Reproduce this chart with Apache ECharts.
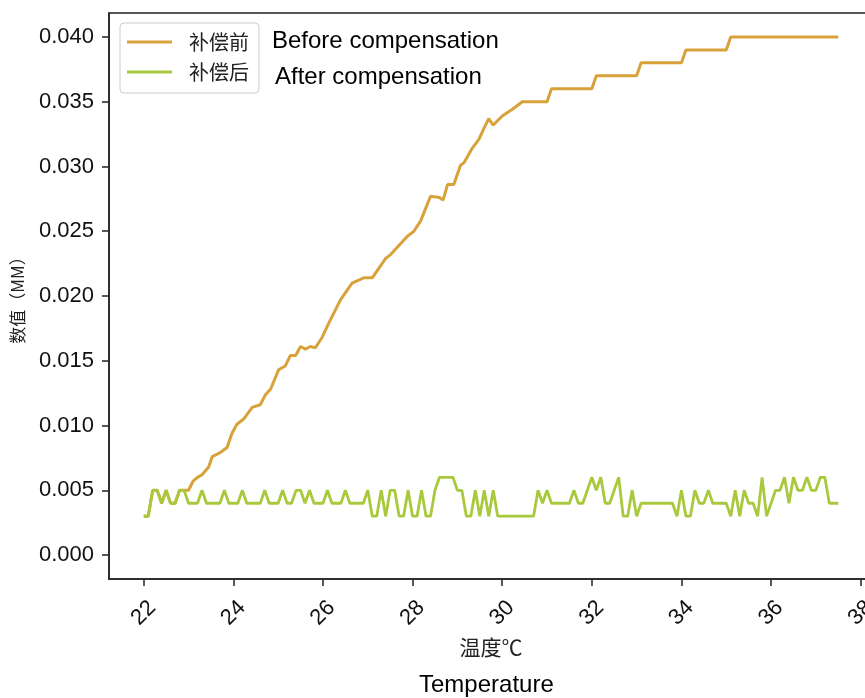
<!DOCTYPE html>
<html>
<head>
<meta charset="utf-8">
<script src="https://cdn.jsdelivr.net/npm/echarts@6/dist/echarts.min.js"></script>
<style>html,body{margin:0;padding:0;background:#fff;}#c{width:865px;height:698px;}</style>
</head>
<body>
<div id="c"></div>
<script>
// Temperature (x) ticks
var xTicks = [22, 24, 26, 28, 30, 32, 34, 36, 38];
var yTicks = [0.000, 0.005, 0.010, 0.015, 0.020, 0.025, 0.030, 0.035, 0.040];

// 补偿前 (before compensation): temperature / value pairs
var beforeTemp = [22.0, 22.1, 22.2, 22.3, 22.4, 22.5, 22.6, 22.7, 22.8, 22.9, 23.0, 23.1, 23.2, 23.3, 23.45, 23.53, 23.7, 23.86, 23.97, 24.08, 24.23, 24.42, 24.6, 24.72, 24.83, 25.01, 25.16, 25.27, 25.39, 25.5, 25.61, 25.72, 25.83, 25.98, 26.13, 26.39, 26.65, 26.91, 27.1, 27.4, 27.51, 27.88, 28.03, 28.18, 28.4, 28.6, 28.68, 28.78, 28.92, 29.07, 29.15, 29.33, 29.48, 29.6, 29.7, 29.8, 30.0, 30.22, 30.45, 31.0, 31.1, 32.0, 32.1, 33.0, 33.1, 34.0, 34.1, 35.0, 35.1, 37.5];
var beforeVal = [0.003, 0.003, 0.005, 0.005, 0.004, 0.005, 0.004, 0.004, 0.005, 0.005, 0.005, 0.0057, 0.006, 0.0062, 0.0068, 0.0076, 0.0079, 0.0083, 0.0094, 0.0101, 0.0105, 0.0114, 0.0116, 0.0124, 0.0128, 0.0143, 0.0146, 0.0154, 0.0154, 0.0161, 0.0159, 0.0161, 0.0160, 0.0168, 0.0179, 0.0197, 0.0210, 0.0214, 0.0214, 0.0229, 0.0232, 0.0246, 0.0250, 0.0258, 0.0277, 0.0276, 0.0274, 0.0286, 0.0286, 0.0301, 0.0303, 0.0314, 0.0321, 0.0330, 0.0337, 0.0332, 0.0339, 0.0344, 0.0350, 0.0350, 0.0360, 0.0360, 0.0370, 0.0370, 0.0380, 0.0380, 0.0390, 0.0390, 0.0400, 0.0400];

// 补偿后 (after compensation)
var afterTemp = [22.0,22.1,22.2,22.3,22.4,22.5,22.6,22.7,22.8,22.9,
23.0,23.1,23.2,23.3,23.4,23.5,23.6,23.7,23.8,23.9,
24.0,24.1,24.2,24.3,24.4,24.5,24.6,24.7,24.8,24.9,
25.0,25.1,25.2,25.3,25.4,25.5,25.6,25.7,25.8,25.9,
26.0,26.1,26.2,26.3,26.4,26.5,26.6,26.7,26.8,26.9,
27.0,27.1,27.2,27.3,27.4,27.5,27.6,27.7,27.8,27.9,
28.0,28.1,28.2,28.3,28.4,28.5,28.6,28.7,28.8,28.9,
29.0,29.1,29.2,29.3,29.4,29.5,29.6,29.7,29.8,29.9,
30.0,30.1,30.2,30.3,30.4,30.5,30.6,30.7,30.8,30.9,
31.0,31.1,31.2,31.3,31.4,31.5,31.6,31.7,31.8,31.9,
32.0,32.1,32.2,32.3,32.4,32.5,32.6,32.7,32.8,32.9,
33.0,33.1,33.2,33.3,33.4,33.5,33.6,33.7,33.8,33.9,
34.0,34.1,34.2,34.3,34.4,34.5,34.6,34.7,34.8,34.9,
35.0,35.1,35.2,35.3,35.4,35.5,35.6,35.7,35.8,35.9,
36.0,36.1,36.2,36.3,36.4,36.5,36.6,36.7,36.8,36.9,
37.0,37.1,37.2,37.3,37.4,37.5];
var afterVal = [0.003,0.003,0.005,0.005,0.004,0.005,0.004,0.004,0.005,0.005,
0.004,0.004,0.004,0.005,0.004,0.004,0.004,0.004,0.005,0.004,
0.004,0.004,0.005,0.004,0.004,0.004,0.004,0.005,0.004,0.004,
0.004,0.005,0.004,0.004,0.005,0.005,0.004,0.005,0.004,0.004,
0.004,0.005,0.004,0.004,0.004,0.005,0.004,0.004,0.004,0.004,
0.005,0.003,0.003,0.005,0.003,0.005,0.005,0.003,0.003,0.005,
0.003,0.003,0.005,0.003,0.003,0.005,0.006,0.006,0.006,0.006,
0.005,0.005,0.003,0.003,0.005,0.003,0.005,0.003,0.005,0.003,
0.003,0.003,0.003,0.003,0.003,0.003,0.003,0.003,0.005,0.004,
0.005,0.004,0.004,0.004,0.004,0.004,0.005,0.004,0.004,0.005,
0.006,0.005,0.006,0.004,0.004,0.005,0.006,0.003,0.003,0.005,
0.003,0.004,0.004,0.004,0.004,0.004,0.004,0.004,0.004,0.003,
0.005,0.003,0.003,0.005,0.004,0.004,0.005,0.004,0.004,0.004,
0.004,0.003,0.005,0.003,0.005,0.004,0.004,0.003,0.006,0.003,
0.004,0.005,0.005,0.006,0.004,0.006,0.005,0.005,0.006,0.005,
0.005,0.006,0.006,0.004,0.004,0.004];

function pairs(xs, ys) { return xs.map(function (x, i) { return [x, ys[i]]; }); }

var FONT = '"Liberation Sans", Arial, "Noto Sans CJK SC", sans-serif';
var CJK = '"Noto Sans CJK SC", "Liberation Sans", sans-serif';
var chart = echarts.init(document.getElementById('c'), null, {renderer: 'canvas'});
chart.setOption({
  backgroundColor: '#ffffff',
  animation: false,
  grid: {left: 109, top: 13, width: 764, height: 566, containLabel: false, outerBoundsMode: 'none',
    show: true, borderColor: '#222', borderWidth: 1.5, backgroundColor: 'transparent'},
  legend: {
    orient: 'vertical', left: 120, top: 23,
    padding: [9, 10, 11, 7], itemGap: 10,
    backgroundColor: 'rgba(255,255,255,0.9)', borderColor: '#cccccc', borderWidth: 1, borderRadius: 4,
    itemWidth: 45, itemHeight: 3, icon: 'rect',
    textStyle: {fontFamily: CJK, fontSize: 20, color: '#222', padding: [0, 0, 0, 12]},
    data: ['补偿前', '补偿后']
  },
  xAxis: {
    type: 'value', min: 21.225, max: 38.275,
    name: '温度℃', nameLocation: 'middle', nameGap: 53,
    nameTextStyle: {fontFamily: CJK, fontSize: 21, color: '#222'},
    axisLine: {show: true, onZero: false, lineStyle: {color: '#222', width: 1.5}},
    axisTick: {show: true, length: 7, lineStyle: {color: '#222', width: 1.5}, customValues: xTicks},
    axisLabel: {customValues: xTicks, rotate: 45, align: 'center', verticalAlign: 'middle', margin: 34,
      fontFamily: FONT, fontSize: 22, color: '#111', formatter: function (v) { return String(v); }},
    splitLine: {show: false}
  },
  yAxis: {
    type: 'value', min: -0.00185, max: 0.04185,
    name: '数值（MM）', nameLocation: 'middle', nameGap: 83, nameRotate: 90,
    nameTextStyle: {fontFamily: CJK, fontSize: 17, color: '#222'},
    axisLine: {show: true, onZero: false, lineStyle: {color: '#222', width: 1.5}},
    axisTick: {show: true, length: 7, lineStyle: {color: '#222', width: 1.5}, customValues: yTicks},
    axisLabel: {customValues: yTicks, margin: 15, fontFamily: FONT, fontSize: 22, color: '#111',
      formatter: function (v) { return v.toFixed(3); }},
    splitLine: {show: false}
  },
  series: [
    {name: '补偿前', type: 'line', data: pairs(beforeTemp, beforeVal), symbol: 'none', color: '#d8a23a',
      lineStyle: {color: '#d8a23a', width: 3}},
    {name: '补偿后', type: 'line', data: pairs(afterTemp, afterVal), symbol: 'none', color: '#a9c93c',
      lineStyle: {color: '#a9c93c', width: 2.8}}
  ],
  graphic: [
    {type: 'text', left: 272, top: 29, style: {text: 'Before compensation', font: '24px "Liberation Sans", Arial, sans-serif', fill: '#000'}},
    {type: 'text', left: 275, top: 65, style: {text: 'After compensation', font: '24px "Liberation Sans", Arial, sans-serif', fill: '#000'}},
    {type: 'text', left: 419, top: 673, style: {text: 'Temperature', font: '24px "Liberation Sans", Arial, sans-serif', fill: '#000'}}
  ]
});
</script>
</body>
</html>
